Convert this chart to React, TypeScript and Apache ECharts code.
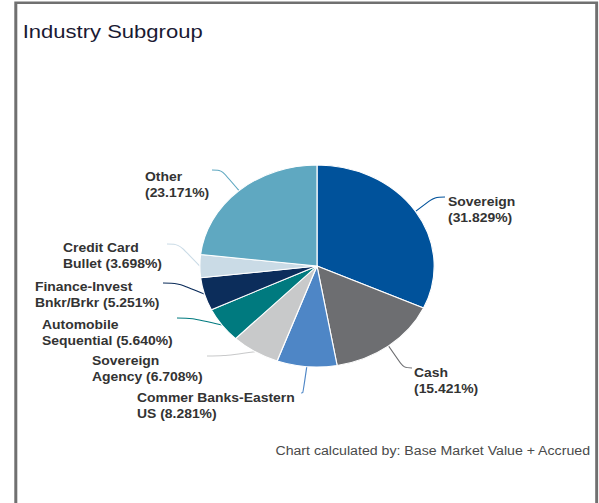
import React, { useEffect, useRef } from "react";
import * as echarts from "echarts";

// horizontal stretch of the reference picture (pie is an ellipse there)
const SX = 1.16;
const W = 599;
const H = 503;
const FONT = '"Liberation Sans", Arial, Helvetica, sans-serif';

const categories = [
  "Sovereign",
  "Cash",
  "Commer Banks-Eastern US",
  "Sovereign Agency",
  "Automobile Sequential",
  "Finance-Invest Bnkr/Brkr",
  "Credit Card Bullet",
  "Other",
];
const values = [31.829, 15.421, 8.281, 6.708, 5.64, 5.251, 3.698, 23.171];
const labelHeads = [
  "Sovereign\n",
  "Cash\n",
  "Commer Banks-Eastern\nUS ",
  "Sovereign\nAgency ",
  "Automobile\nSequential ",
  "Finance-Invest\nBnkr/Brkr ",
  "Credit Card\nBullet ",
  "Other\n",
];
const colors = [
  "#00529b",
  "#6d6e71",
  "#4e86c6",
  "#c8c9ca",
  "#007a7f",
  "#0c2d5b",
  "#cadbe6",
  "#5fa8c1",
];

// label placement in reference pixels: [text left, cap top, line end x, line end y]
const labelAnchors = [
  [448, 197, 445, 197],
  [414, 368, 412, 368],
  [137, 393, 301, 393],
  [92, 356, 207, 356],
  [42, 320, 177, 318],
  [35, 282, 163, 283],
  [63, 243, 167, 244],
  [145, 172, 212, 170],
];

const TITLE = "Industry Subgroup";
const FOOTER = "Chart calculated by: Base Market Value + Accrued";

export default function App() {
  const ref = useRef<HTMLDivElement>(null);

  useEffect(() => {
    if (!ref.current) return;
    const chart = echarts.init(ref.current, undefined, { renderer: "svg" });
    const cx = 317 / SX;
    const cy = 266;
    const R = 101;
    const total = values.reduce((a, b) => a + b, 0);

    const fallbackStart = (i: number) => {
      let cum = 0;
      for (let k = 0; k < i; k++) cum += values[k];
      const mid = ((cum + values[i] / 2) / total) * Math.PI * 2;
      return [cx + R * Math.sin(mid), cy - R * Math.cos(mid)];
    };

    chart.setOption({
      animation: false,
      graphic: [
        {
          type: "rect",
          shape: { x: 15.8 / SX, y: 2.8, width: (596.7 - 15.8) / SX, height: 560 },
          style: { fill: "none", stroke: "#707070", lineWidth: 2.6 },
          silent: true,
        },
        {
          type: "text",
          x: 22.7 / SX,
          y: 21.2,
          style: {
            text: TITLE,
            fontSize: 19,
            fontFamily: FONT,
            fill: "#1a1a33",
            align: "left",
            verticalAlign: "top",
            lineHeight: 19,
          },
        },
        {
          type: "text",
          x: 590 / SX,
          y: 443.2,
          style: {
            text: FOOTER,
            fontSize: 12.2,
            fontFamily: FONT,
            fill: "#4a4a4a",
            align: "right",
            verticalAlign: "top",
            lineHeight: 16,
          },
        },
      ],
      series: [
        {
          type: "pie",
          center: [cx, cy],
          radius: R,
          startAngle: 90,
          clockwise: true,
          avoidLabelOverlap: false,
          data: categories.map((name, i) => ({
            name,
            value: values[i],
            itemStyle: { color: colors[i] },
          })),
          itemStyle: { borderColor: "#ffffff", borderWidth: 1 },
          label: {
            show: true,
            position: "outside",
            formatter: (p: any) =>
              labelHeads[p.dataIndex] + "(" + values[p.dataIndex].toFixed(3) + "%)",
            color: "#333333",
            fontWeight: "bold",
            fontSize: 12,
            fontFamily: FONT,
            lineHeight: 16,
            align: "left",
          },
          labelLine: {
            show: true,
            smooth: 0.35,
            lineStyle: { width: 1 },
          },
          labelLayout: (p: any) => {
            const i = p.dataIndex;
            const a = labelAnchors[i];
            const p0 =
              p.labelLinePoints && p.labelLinePoints[0]
                ? p.labelLinePoints[0]
                : fallbackStart(i);
            const E = [a[2] / SX, a[3]];
            const M = [E[0] + (p0[0] - E[0]) * 0.35, E[1]];
            return {
              x: a[0] / SX,
              y: a[1] - 3.6,
              align: "left",
              verticalAlign: "top",
              labelLinePoints: [p0, M, E],
            };
          },
          emphasis: { disabled: true },
        },
      ],
    });
    return () => chart.dispose();
  }, []);

  return (
    <div
      style={{
        position: "absolute",
        left: 0,
        top: 0,
        width: W / SX,
        height: H,
        transform: `scaleX(${SX})`,
        transformOrigin: "0 0",
        background: "#ffffff",
      }}
    >
      <div ref={ref} style={{ width: W / SX, height: H }} />
    </div>
  );
}
